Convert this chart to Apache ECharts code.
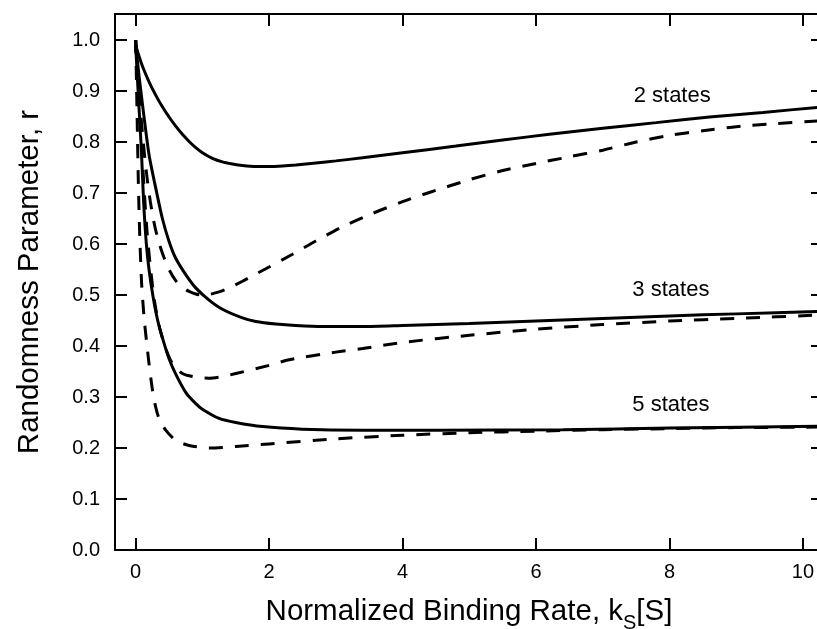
<!DOCTYPE html>
<html>
<head>
<meta charset="utf-8">
<script src="https://cdn.jsdelivr.net/npm/echarts@6/dist/echarts.min.js"></script>
<style>
  html, body { margin: 0; padding: 0; background: #fff; }
  #chart { width: 817px; height: 629px; }
</style>
</head>
<body>
<div id="chart"></div>
<script>
// Randomness parameter r versus normalized binding rate k_S[S]
// Solid curves: one model; dashed curves: the alternative model.

const xTicks = [0, 2, 4, 6, 8, 10];
const yTicks = [0, 0.1, 0.2, 0.3, 0.4, 0.5, 0.6, 0.7, 0.8, 0.9, 1.0];
const stateLabels = ['2 states', '3 states', '5 states'];

// 2 states
const xSolid2 = [0, 0.05, 0.1, 0.2, 0.3, 0.4, 0.5, 0.6, 0.7, 0.8, 0.9, 1.0, 1.15, 1.3, 1.45, 1.6, 1.8, 2.0, 2.2, 2.4, 2.7, 3.0, 3.4, 4.0, 4.8, 5.5, 6.2, 7.0, 7.8, 8.6, 9.4, 10.3];
const rSolid2 = [0.99, 0.968, 0.949, 0.918, 0.892, 0.869, 0.849, 0.831, 0.815, 0.801, 0.789, 0.779, 0.768, 0.761, 0.757, 0.754, 0.752, 0.752, 0.753, 0.755, 0.759, 0.763, 0.769, 0.779, 0.792, 0.804, 0.815, 0.827, 0.838, 0.849, 0.858, 0.869];
const xDash2 = [0, 0.03, 0.06, 0.1, 0.14, 0.18, 0.22, 0.26, 0.3, 0.36, 0.42, 0.5, 0.6, 0.7, 0.8, 0.9, 1.0, 1.1, 1.25, 1.4, 1.6, 1.8, 2.0, 2.35, 2.7, 3.1, 3.55, 4.0, 4.4, 5.0, 5.5, 6.0, 6.5, 7.0, 7.5, 8.0, 8.5, 9.0, 9.6, 10.3];
const rDash2 = [1.0, 0.94, 0.88, 0.82, 0.765, 0.72, 0.683, 0.652, 0.627, 0.598, 0.575, 0.55, 0.528, 0.515, 0.507, 0.502, 0.5, 0.501, 0.506, 0.514, 0.527, 0.541, 0.555, 0.58, 0.606, 0.634, 0.66, 0.683, 0.701, 0.726, 0.744, 0.758, 0.771, 0.784, 0.8, 0.813, 0.822, 0.83, 0.836, 0.842];

// 3 states
const xSolid3 = [0, 0.05, 0.11, 0.2, 0.3, 0.4, 0.5, 0.6, 0.75, 0.9, 1.1, 1.3, 1.6, 1.8, 2.1, 2.4, 2.8, 3.4, 4.0, 5.0, 6.4, 8.0, 9.0, 10.3];
const rSolid3 = [0.99, 0.93, 0.865, 0.775, 0.71, 0.65, 0.605, 0.572, 0.54, 0.514, 0.49, 0.472, 0.455, 0.448, 0.443, 0.44, 0.438, 0.438, 0.44, 0.444, 0.451, 0.459, 0.463, 0.468];
const xDash3 = [0, 0.04, 0.085, 0.13, 0.17, 0.22, 0.28, 0.35, 0.45, 0.55, 0.7, 0.9, 1.1, 1.3, 1.5, 2.0, 2.3, 3.0, 3.4, 4.0, 5.0, 6.0, 7.0, 8.0, 9.0, 10.3];
const rDash3 = [1.0, 0.9, 0.8, 0.7, 0.625, 0.555, 0.49, 0.44, 0.395, 0.366, 0.346, 0.339, 0.337, 0.34, 0.346, 0.362, 0.373, 0.388, 0.395, 0.407, 0.421, 0.433, 0.442, 0.449, 0.454, 0.461];

// 5 states
const xSolid5 = [0, 0.04, 0.085, 0.12, 0.16, 0.2, 0.26, 0.33, 0.41, 0.5, 0.6, 0.76, 0.9, 1.0, 1.25, 1.5, 1.9, 2.5, 3.4, 4.5, 6.4, 8.0, 10.3];
const rSolid5 = [0.99, 0.89, 0.785, 0.68, 0.6, 0.55, 0.497, 0.45, 0.412, 0.375, 0.345, 0.307, 0.287, 0.276, 0.258, 0.25, 0.242, 0.237, 0.235, 0.235, 0.236, 0.239, 0.243];
const xDash5 = [0, 0.02, 0.04, 0.06, 0.09, 0.13, 0.17, 0.2, 0.25, 0.3, 0.35, 0.45, 0.6, 0.8, 1.1, 1.5, 2.0, 3.0, 4.0, 5.0, 6.0, 7.0, 8.0, 9.0, 10.3];
const rDash5 = [1.0, 0.86, 0.72, 0.62, 0.52, 0.45, 0.4, 0.365, 0.315, 0.28, 0.258, 0.235, 0.215, 0.205, 0.2, 0.203, 0.208, 0.218, 0.225, 0.23, 0.233, 0.236, 0.238, 0.24, 0.241];

const zip = (xs, ys) => xs.map((x, i) => [x, ys[i]]);

const FONT = '"Liberation Sans", Arial, Helvetica, sans-serif';
const INK = '#000';

function curve(xs, ys, dashed) {
  return {
    type: 'line',
    data: zip(xs, ys),
    showSymbol: false,
    symbol: 'none',
    smooth: 0.25,
    clip: true,
    lineStyle: { color: INK, width: 3, type: dashed ? [14, 12] : 'solid', cap: 'butt' },
    emphasis: { disabled: true },
    z: dashed ? 2 : 3
  };
}

function stateTag(text, coord) {
  return {
    symbol: 'circle',
    symbolSize: 0,
    silent: true,
    label: { show: true, position: 'inside', formatter: text, color: INK, fontSize: 22, fontFamily: FONT },
    data: [{ coord: coord }]
  };
}

const axisLineStyle = { onZero: false, lineStyle: { color: INK, width: 2 } };
const tickLine = { color: INK, width: 2 };

const s2 = curve(xSolid2, rSolid2, false);
s2.markPoint = stateTag(stateLabels[0], [8.04, 0.89]);
const s3 = curve(xSolid3, rSolid3, false);
s3.markPoint = stateTag(stateLabels[1], [8.02, 0.509]);
const s5 = curve(xSolid5, rSolid5, false);
s5.markPoint = stateTag(stateLabels[2], [8.02, 0.284]);

const option = {
  animation: false,
  backgroundColor: '#fff',
  grid: { left: 115, top: 14, width: 708, height: 536, containLabel: false, outerBoundsMode: 'none' },
  xAxis: [
    {
      type: 'value', position: 'bottom', min: -0.31, max: 10.3,
      axisLine: axisLineStyle,
      axisTick: { show: true, inside: true, length: 12, customValues: xTicks, lineStyle: tickLine },
      axisLabel: { show: true, customValues: xTicks, color: INK, fontSize: 20, fontFamily: FONT, margin: 12 },
      splitLine: { show: false },
      name: '{a|Normalized Binding Rate, k}{s|S}{a|[S]}',
      nameLocation: 'middle',
      nameGap: 41,
      nameTextStyle: {
        color: INK,
        rich: {
          a: { fontSize: 29.5, fontFamily: FONT, color: INK },
          s: { fontSize: 20, fontFamily: FONT, color: INK, padding: [22, 0, 0, 0] }
        }
      }
    },
    {
      type: 'value', position: 'top', min: -0.31, max: 10.3,
      axisLine: axisLineStyle,
      axisTick: { show: true, inside: true, length: 12, customValues: xTicks, lineStyle: tickLine },
      axisLabel: { show: false },
      splitLine: { show: false }
    }
  ],
  yAxis: [
    {
      type: 'value', position: 'left', min: 0, max: 1.051,
      axisLine: axisLineStyle,
      axisTick: { show: true, inside: true, length: 12, customValues: yTicks, lineStyle: tickLine },
      axisLabel: { show: true, customValues: yTicks, color: INK, fontSize: 20, fontFamily: FONT, margin: 15,
        formatter: v => v.toFixed(1) },
      splitLine: { show: false },
      name: 'Randomness Parameter, r',
      nameLocation: 'middle',
      nameGap: 70,
      nameTextStyle: { color: INK, fontSize: 29.5, fontFamily: FONT }
    },
    {
      type: 'value', position: 'right', min: 0, max: 1.051,
      axisLine: axisLineStyle,
      axisTick: { show: true, inside: true, length: 12, customValues: yTicks, lineStyle: tickLine },
      axisLabel: { show: false },
      splitLine: { show: false }
    }
  ],
  series: [
    s2, curve(xDash2, rDash2, true),
    s3, curve(xDash3, rDash3, true),
    s5, curve(xDash5, rDash5, true)
  ]
};

const chart = echarts.init(document.getElementById('chart'), null, { renderer: 'canvas' });
chart.setOption(option);
</script>
</body>
</html>
